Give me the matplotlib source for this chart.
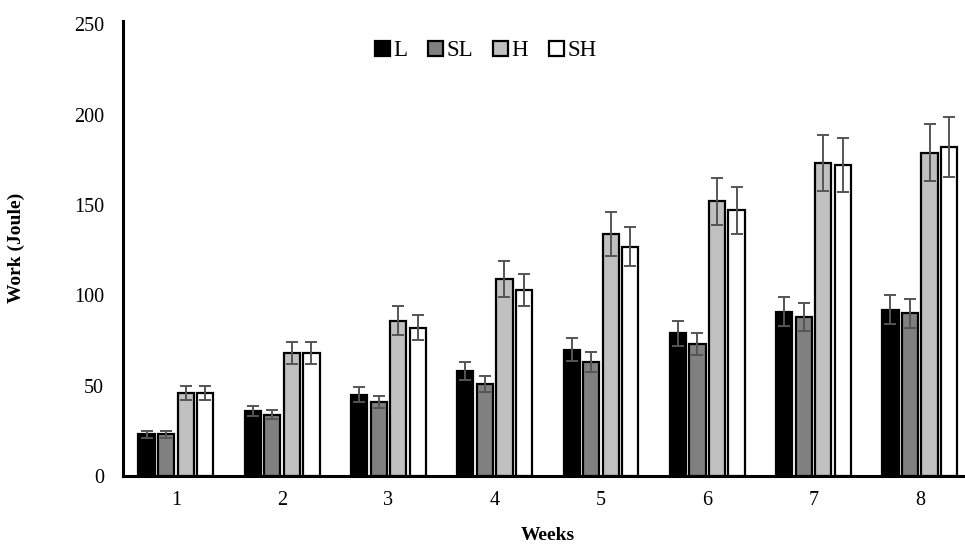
import matplotlib.pyplot as plt
from matplotlib import rcParams
import numpy as np

rcParams['font.family'] = ['Liberation Serif', 'DejaVu Serif']

weeks = ['1', '2', '3', '4', '5', '6', '7', '8']
groups = ['L', 'SL', 'H', 'SH']
L_vals = [23, 36, 45, 58, 70, 79, 91, 92]
SL_vals = [23, 34, 41, 51, 63, 73, 88, 90]
H_vals = [46, 68, 86, 109, 134, 152, 173, 179]
SH_vals = [46, 68, 82, 103, 127, 147, 172, 182]
L_err = [2, 3, 4, 5, 6.5, 7, 8, 8]
SL_err = [2, 2.5, 3.5, 4.5, 5.5, 6, 8, 8]
H_err = [4, 6, 8, 10, 12, 13, 15.5, 16]
SH_err = [4, 6, 7, 9, 11, 13, 15, 16.5]

colors = ['#000000', '#808080', '#c0c0c0', '#ffffff']


def draw_bars(ax):
    """各グループの棒と誤差棒を描く"""
    x = np.arange(1, len(weeks) + 1)
    vals = [L_vals, SL_vals, H_vals, SH_vals]
    errs = [L_err, SL_err, H_err, SH_err]
    pitch = 0.184
    for i, name in enumerate(groups):
        pos = x + (i - 1.5) * pitch
        ax.bar(pos, vals[i], width=0.152, color=colors[i], edgecolor='black',
               linewidth=1.6, label=name, zorder=2)
        ax.errorbar(pos, vals[i], yerr=errs[i], fmt='none', ecolor='#555555',
                    elinewidth=1.4, capsize=4.3, capthick=1.4, zorder=3)


fig = plt.figure(figsize=(9.65, 5.44), dpi=100)
ax = fig.add_axes([0.1272, 0.125, 0.881, 0.837])
draw_bars(ax)

ax.set_xlim(0.5, 8.5)
ax.set_ylim(0, 252)
ax.set_xticks(np.arange(1, 9))
ax.set_xticklabels(weeks)
ax.set_yticks(range(0, 251, 50))
ax.tick_params(length=0, labelsize=14.5, pad=11)
ax.tick_params(axis='y', pad=13.5)
for s in ['top', 'right']:
    ax.spines[s].set_visible(False)
ax.spines['left'].set_linewidth(2.2)
ax.spines['bottom'].set_linewidth(2.2)

ax.set_xlabel('Weeks', fontsize=14, fontweight='bold', labelpad=12)
ax.yaxis.set_label_coords(-0.115, 0.5)
ax.set_ylabel('Work (Joule)', fontsize=14, fontweight='bold')

ax.legend(loc='center', bbox_to_anchor=(0.427, 0.934), ncol=4, frameon=False,
          fontsize=16.5, handlelength=0.65, handleheight=0.65, handletextpad=0.15,
          columnspacing=0.9, borderaxespad=0)

fig.savefig('out.png', dpi=100)
plt.close(fig)
